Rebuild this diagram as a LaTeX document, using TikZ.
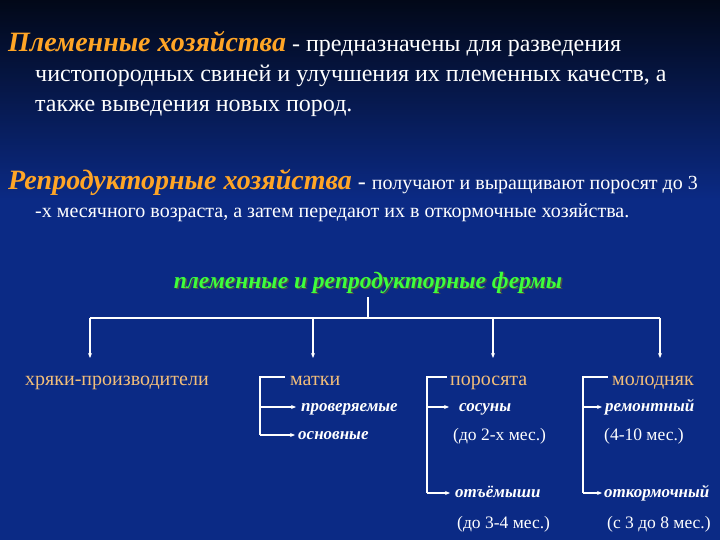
\documentclass[tikz,border=0pt]{standalone}
\usepackage{fontspec}
\usetikzlibrary{arrows.meta}
\setmainfont{Liberation Serif}
\definecolor{bgtop}{HTML}{020818}
\definecolor{bgmid}{HTML}{0B2A85}
\definecolor{bgbot}{HTML}{0D3096}
\definecolor{orng}{HTML}{FFA526}
\definecolor{lbl}{HTML}{F2BE7A}
\definecolor{grn}{HTML}{3CFF3C}
\begin{document}
\begin{tikzpicture}[x=1pt,y=-1pt,
  txt/.style={inner sep=0pt,anchor=base west,text=white},
  sub/.style={txt,font=\fontsize{17}{17}\selectfont\bfseries\itshape},
  cat/.style={txt,text=lbl,font=\fontsize{20}{20}\selectfont},
  age/.style={txt,font=\fontsize{17.5}{17.5}\selectfont},
  ln/.style={draw=white,line width=1.2pt},
  arr/.style={ln,-{Stealth[length=5pt,width=4pt]}}]
\useasboundingbox (0,0) rectangle (720,540);
\fill[bgmid] (0,0) rectangle (720,540);
\shade[top color=bgtop,bottom color=bgmid] (0,0) rectangle (720,200.5);
% top texts
\node[txt] (h1) at (8,52) {\fontsize{28}{28}\selectfont\bfseries\itshape\color{orng}Племенные хозяйства\color{white}\normalfont\fontsize{24}{24}\selectfont\ - предназначены для разведения};
\node[txt,font=\fontsize{24}{24}\selectfont] (h1b) at (35,82) {чистопородных свиней и улучшения их племенных качеств, а};
\node[txt,font=\fontsize{24}{24}\selectfont] (h1c) at (35,112) {также выведения новых пород.};
\node[txt] (h2) at (8,190) {\fontsize{28}{28}\selectfont\bfseries\itshape\color{orng}Репродукторные хозяйства\color{white}\normalfont\fontsize{24}{24}\selectfont\ - \fontsize{20}{20}\selectfont получают и выращивают поросят до 3};
\node[txt,font=\fontsize{20}{20}\selectfont] (h2b) at (35,218) {-х месячного возраста, а затем передают их в откормочные хозяйства.};
% title
\node[inner sep=0pt,anchor=base,text=black!70,font=\fontsize{23.5}{23.5}\selectfont\bfseries\itshape] at (369.5,289.5) {племенные и репродукторные фермы};
\node[inner sep=0pt,anchor=base,text=grn,font=\fontsize{23.5}{23.5}\selectfont\bfseries\itshape] (t) at (368,288) {племенные и репродукторные фермы};
% tree
\coordinate (j) at (368,318);
\coordinate (j0) at (368,297);
\draw[ln] (j0) -- (j);
\draw[ln] (90,318) -- (660,318);
\foreach \x in {90,313,493,660} \draw[arr] (\x,318) -- (\x,358);
\node[cat] (c1) at (25,385) {хряки-производители};
\node[cat] (c2) at (290,385) {матки};
\node[cat] (c3) at (450,385) {поросята};
\node[cat] (c4) at (612,385) {молодняк};
% matki
\draw[ln] (285,377) -- (260,377) -- (260,435);
\draw[arr] (260,407) -- (296,407);
\draw[arr] (260,435) -- (295,435);
\node[sub] (m1) at (301,411) {проверяемые};
\node[sub] (m2) at (298,439) {основные};
% porosyata
\draw[ln] (447,377) -- (427,377) -- (427,493);
\draw[arr] (427,407) -- (449,407);
\draw[arr] (427,493) -- (450,493);
\node[sub] (p1) at (459,411) {сосуны};
\node[age] (p2) at (453,440) {(до 2-х мес.)};
\node[sub] (p3) at (455,497) {отъёмыши};
\node[age] (p4) at (457,528) {(до 3-4 мес.)};
% molodnyak
\draw[ln] (608,377) -- (583,377) -- (583,493);
\draw[arr] (583,407) -- (602,407);
\draw[arr] (583,493) -- (602,493);
\node[sub] (r1) at (605,411) {ремонтный};
\node[age] (r2) at (604,440) {(4-10 мес.)};
\node[sub] (r3) at (604,497) {откормочный};
\node[age] (r4) at (607,528) {(с 3 до 8 мес.)};
\end{tikzpicture}
\end{document}
